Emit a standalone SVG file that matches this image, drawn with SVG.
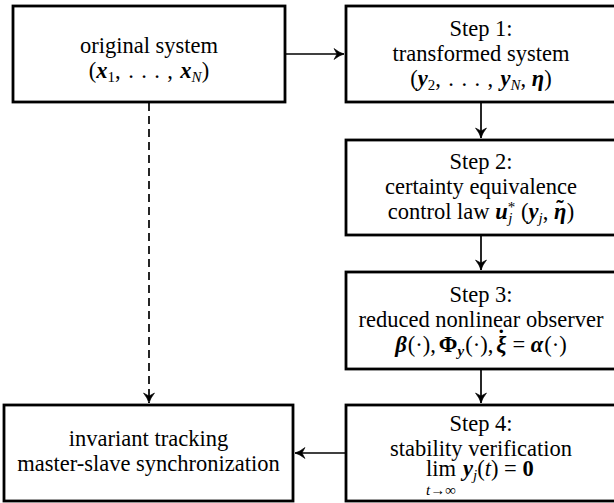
<svg xmlns="http://www.w3.org/2000/svg" width="614" height="503" viewBox="0 0 614 503">
<defs>
<style>
.box{fill:#fff;stroke:#000;stroke-width:2.8}
.t{font-family:"Liberation Serif","DejaVu Serif","Noto Serif",serif;font-size:22.5px;fill:#000;text-anchor:middle}
.st{text-anchor:start}
.v{font-weight:bold;font-style:italic}
.b{font-weight:bold}
.s{font-size:15px}
.w{letter-spacing:0.9px}
.c{stroke:#000;stroke-width:1.7;fill:none}
.d{stroke-dasharray:8 5}
</style>
<marker id="ah" markerUnits="userSpaceOnUse" viewBox="-12 -7 14 14" refX="0" refY="0" markerWidth="14" markerHeight="14" orient="auto">
<path d="M0,0 Q-5,-1.5 -10,-5.5 L-7,0 L-10,5.5 Q-5,1.5 0,0 Z" fill="#000" stroke="#000" stroke-width="0.6" stroke-linejoin="round"/>
</marker>
</defs>
<g id="connectors">
<line class="c" x1="285" y1="54" x2="344" y2="54" marker-end="url(#ah)"/>
<line class="c" x1="481" y1="102" x2="481" y2="138" marker-end="url(#ah)"/>
<line class="c" x1="481" y1="235" x2="481" y2="270" marker-end="url(#ah)"/>
<line class="c" x1="481" y1="369" x2="481" y2="403" marker-end="url(#ah)"/>
<line class="c" x1="346" y1="453" x2="295" y2="453" marker-end="url(#ah)"/>
<line class="c d" x1="149" y1="103" x2="149" y2="403" marker-end="url(#ah)"/>
</g>
<g id="original">
<rect class="box" x="13" y="6" width="272" height="96"/>
<text class="t" x="149" y="53">original system</text>
<text class="t" x="149" y="78">(<tspan class="v">x</tspan><tspan class="s" dy="4">1</tspan><tspan class="w" dy="-4">, . . . , </tspan><tspan class="v">x</tspan><tspan class="s" dy="4" font-style="italic">N</tspan><tspan dy="-4">)</tspan></text>
</g>
<g id="step1">
<rect class="box" x="346" y="6" width="270" height="96"/>
<text class="t" x="481" y="36">Step 1:</text>
<text class="t" x="481" y="61">transformed system</text>
<text class="t" x="481" y="86">(<tspan class="v">y</tspan><tspan class="s" dy="4">2</tspan><tspan class="w" dy="-4">, . . . , </tspan><tspan class="v">y</tspan><tspan class="s" dy="4" font-style="italic">N</tspan><tspan dy="-4">, </tspan><tspan class="v">η</tspan>)</text>
</g>
<g id="step2">
<rect class="box" x="346" y="140" width="270" height="95"/>
<text class="t" x="481" y="169">Step 2:</text>
<text class="t" x="481" y="194">certainty equivalence</text>
<text class="t" x="481" y="219">control law <tspan class="v">u</tspan><tspan class="s" dy="-7">*</tspan><tspan class="s" dx="-7" dy="11" font-style="italic">j</tspan><tspan dx="3" dy="-4"> (</tspan><tspan class="v">y</tspan><tspan class="s" dy="4" font-style="italic">j</tspan><tspan dy="-4">, </tspan><tspan class="v">η</tspan><tspan class="b" dx="-10" dy="-3">˜</tspan><tspan dx="3" dy="3">)</tspan></text>
</g>
<g id="step3">
<rect class="box" x="346" y="272" width="270" height="97"/>
<text class="t" x="481" y="302">Step 3:</text>
<text class="t" x="481" y="327">reduced nonlinear observer</text>
<text class="t" x="481" y="352"><tspan class="v">β</tspan><tspan dx="1">(·),</tspan><tspan dx="3" class="b">Φ</tspan><tspan class="s v" dy="4">y</tspan><tspan dx="1" dy="-4">(·),</tspan><tspan dx="3" class="v">ξ</tspan><tspan class="b" dx="-9" dy="-6">˙</tspan><tspan dx="2" dy="6"> = </tspan><tspan class="v">α</tspan><tspan dx="1">(·)</tspan></text>
</g>
<g id="step4">
<rect class="box" x="346" y="405" width="270" height="96"/>
<text class="t" x="481" y="431">Step 4:</text>
<text class="t" x="481" y="456">stability verification</text>
<text class="t" x="441" y="476">lim</text>
<text class="t st" x="463" y="476"><tspan class="v">y</tspan><tspan class="s" dy="4" font-style="italic">j</tspan><tspan dy="-4">(</tspan><tspan font-style="italic">t</tspan>) = <tspan class="b">0</tspan></text>
<text class="t s" x="441" y="495"><tspan font-style="italic">t</tspan>→∞</text>
</g>
<g id="result">
<rect class="box" x="4" y="405" width="289" height="96"/>
<text class="t" x="148.5" y="446">invariant tracking</text>
<text class="t" x="148.5" y="471">master-slave synchronization</text>
</g>
</svg>
